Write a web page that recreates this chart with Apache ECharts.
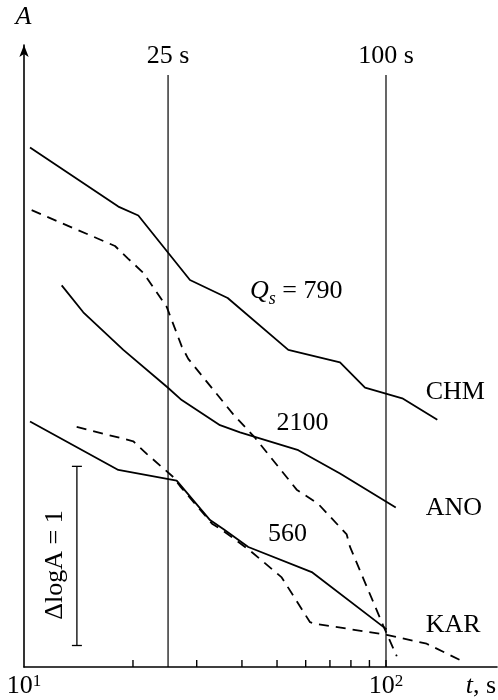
<!DOCTYPE html>
<html>
<head>
<meta charset="utf-8">
<script src="https://cdn.jsdelivr.net/npm/echarts@6/dist/echarts.min.js"></script>
<style>html,body{margin:0;padding:0;background:#fff;}#chart{width:498px;height:700px;}</style>
</head>
<body>
<div id="chart"></div>
<script>
// time in seconds (log axis), y = log A (arbitrary offset)
const chmT = [10.39, 18.22, 20.69, 28.74, 36.53, 53.72, 74.64, 87.50, 110.9, 138.6];
const chmV = [2.90, 2.57, 2.52, 2.16, 2.06, 1.77, 1.70, 1.56, 1.50, 1.38];
const anoT = [12.71, 14.58, 18.81, 24.94, 27.27, 34.79, 39.52, 57.24, 74.64, 106.4];
const anoV = [2.13, 1.98, 1.77, 1.56, 1.49, 1.35, 1.31, 1.21, 1.08, 0.89];
const karT = [10.39, 18.22, 26.41, 32.65, 35.52, 41.65, 62.35, 100.4];
const karV = [1.37, 1.10, 1.04, 0.82, 0.77, 0.67, 0.53, 0.21];
const dashUpperT = [10.50, 17.84, 19.38, 21.36, 24.79, 27.27, 28.43, 37.86, 43.46, 56.66, 65.01, 77.89, 79.55, 98.29, 107.1];
const dashUpperV = [2.55, 2.35, 2.28, 2.20, 2.01, 1.79, 1.72, 1.41, 1.28, 0.99, 0.91, 0.74, 0.67, 0.23, 0.06];
const dashLowerT = [13.98, 20.04, 21.83, 25.85, 26.97, 33.07, 35.52, 42.10, 51.51, 61.68, 64.36, 100.4, 129.5, 163.5];
const dashLowerV = [1.34, 1.26, 1.19, 1.06, 1.01, 0.80, 0.76, 0.65, 0.50, 0.25, 0.24, 0.18, 0.13, 0.03];

const markerTimes = [25, 100];
const markerLabels = ['25 s', '100 s'];
const markerTop = 3.305;

const scaleBar = [14.0, 0.12, 1.12]; // t, log A from, log A to (ΔlogA = 1)

const tickValues = [20, 30, 40, 50, 60, 70, 80, 90, 100];
const labelValues = [10, 100];

const FONT = 'Liberation Serif';
const zip = (a, b) => a.map((x, i) => [x, b[i]]);

const chart = echarts.init(document.getElementById('chart'), null, {renderer: 'canvas'});

function lineSeries(name, t, v, dashed) {
  return {
    name, type: 'line', data: zip(t, v), showSymbol: false, symbol: 'none',
    animation: false, silent: true, z: 3,
    lineStyle: {color: '#000', width: 1.8, type: dashed ? [10, 7] : 'solid'}
  };
}

const option = {
  backgroundColor: '#fff',
  animation: false,
  grid: {left: 24, right: 1, top: 45, bottom: 33},
  xAxis: {
    type: 'log', logBase: 10, min: 10, max: 202.6,
    axisLine: {show: true, lineStyle: {color: '#000', width: 1.6}},
    axisTick: {show: false},
    minorTick: {show: false},
    splitLine: {show: false},
    axisLabel: {
      show: true, customValues: labelValues, margin: 6,
      formatter: v => '{b|10}{sup|' + Math.round(Math.log10(v)) + '}',
      rich: {
        b: {fontFamily: FONT, fontSize: 26, color: '#000', lineHeight: 26},
        sup: {fontFamily: FONT, fontSize: 17, color: '#000', verticalAlign: 'top', lineHeight: 17}
      }
    }
  },
  yAxis: {
    type: 'value', min: 0, max: 3.472,
    axisLine: {show: true, symbol: ['none', 'arrow'], symbolSize: [7, 12], lineStyle: {color: '#000', width: 1.6}},
    axisTick: {show: false}, axisLabel: {show: false}, splitLine: {show: false}
  },
  series: [
    lineSeries('CHM', chmT, chmV, false),
    lineSeries('ANO', anoT, anoV, false),
    lineSeries('KAR', karT, karV, false),
    lineSeries('dashUpper', dashUpperT, dashUpperV, true),
    lineSeries('dashLower', dashLowerT, dashLowerV, true),
    {
      type: 'custom', clip: false, z: 2,
      data: markerTimes.map((t, i) => [t, i]),
      renderItem: function (params, api) {
        const t = api.value(0);
        const top = api.coord([t, markerTop]);
        const bot = api.coord([t, 0]);
        return {type: 'group', children: [
          {type: 'line', shape: {x1: top[0], y1: top[1], x2: bot[0], y2: bot[1]}, style: {stroke: '#000', lineWidth: 1.2}},
          {type: 'text', x: top[0], y: top[1] - 19, style: {text: markerLabels[params.dataIndex], fontFamily: FONT, fontSize: 26, fill: '#000', align: 'center', verticalAlign: 'middle'}}
        ]};
      }
    },
    {
      type: 'custom', clip: false, z: 2,
      data: [scaleBar],
      renderItem: function (params, api) {
        const a = api.coord([api.value(0), api.value(1)]);
        const b = api.coord([api.value(0), api.value(2)]);
        const st = {stroke: '#000', lineWidth: 1.3};
        return {type: 'group', children: [
          {type: 'line', shape: {x1: a[0], y1: a[1], x2: b[0], y2: b[1]}, style: st},
          {type: 'line', shape: {x1: a[0] - 5, y1: a[1], x2: a[0] + 5, y2: a[1]}, style: st},
          {type: 'line', shape: {x1: b[0] - 5, y1: b[1], x2: b[0] + 5, y2: b[1]}, style: st}
        ]};
      }
    },
    {
      // x-axis minor ticks at 20 ... 100, placed through the log scale (drawn as thin filled bars)
      type: 'custom', clip: false, z: 10,
      data: tickValues.map((t, i) => [t, 0.2, i]),
      renderItem: function (params, api) {
        const p = api.coord([api.value(0), 0]);
        return {type: 'rect', shape: {x: p[0] - 0.7, y: p[1] - 7, width: 1.4, height: 7}, style: {fill: '#000'}};
      }
    }
  ],
  graphic: [
    {type: 'text', x: 23.5, y: 17.5, style: {text: 'A', fontFamily: FONT, fontSize: 26, fontStyle: 'italic', fill: '#000', align: 'center', verticalAlign: 'middle'}},
    {type: 'text', x: 250, y: 291, style: {
      text: '{q|Q}{s|s}{n| = 790}', fill: '#000', align: 'left', verticalAlign: 'middle',
      rich: {
        q: {fontFamily: FONT, fontSize: 26, fontStyle: 'italic', fill: '#000'},
        s: {fontFamily: FONT, fontSize: 18, fontStyle: 'italic', fill: '#000', padding: [16, 0, 0, 0]},
        n: {fontFamily: FONT, fontSize: 26, fill: '#000'}
      }}},
    {type: 'text', x: 302.5, y: 423, style: {text: '2100', fontFamily: FONT, fontSize: 26, fill: '#000', align: 'center', verticalAlign: 'middle'}},
    {type: 'text', x: 287.5, y: 534, style: {text: '560', fontFamily: FONT, fontSize: 26, fill: '#000', align: 'center', verticalAlign: 'middle'}},
    {type: 'text', x: 425.7, y: 392, style: {text: 'CHM', fontFamily: FONT, fontSize: 26, fill: '#000', align: 'left', verticalAlign: 'middle'}},
    {type: 'text', x: 425.7, y: 508, style: {text: 'ANO', fontFamily: FONT, fontSize: 26, fill: '#000', align: 'left', verticalAlign: 'middle'}},
    {type: 'text', x: 425.7, y: 625, style: {text: 'KAR', fontFamily: FONT, fontSize: 26, fill: '#000', align: 'left', verticalAlign: 'middle'}},
    {type: 'text', x: 55, y: 565, rotation: Math.PI / 2, style: {text: '\u0394logA = 1', fontFamily: FONT, fontSize: 26, fill: '#000', align: 'center', verticalAlign: 'middle'}},
    {type: 'text', x: 496, y: 686.5, style: {
      text: '{t|t}{n|, s}', fill: '#000', align: 'right', verticalAlign: 'middle',
      rich: {
        t: {fontFamily: FONT, fontSize: 26, fontStyle: 'italic', fill: '#000'},
        n: {fontFamily: FONT, fontSize: 26, fill: '#000'}
      }}}
  ]
};
chart.setOption(option);
</script>
</body>
</html>
